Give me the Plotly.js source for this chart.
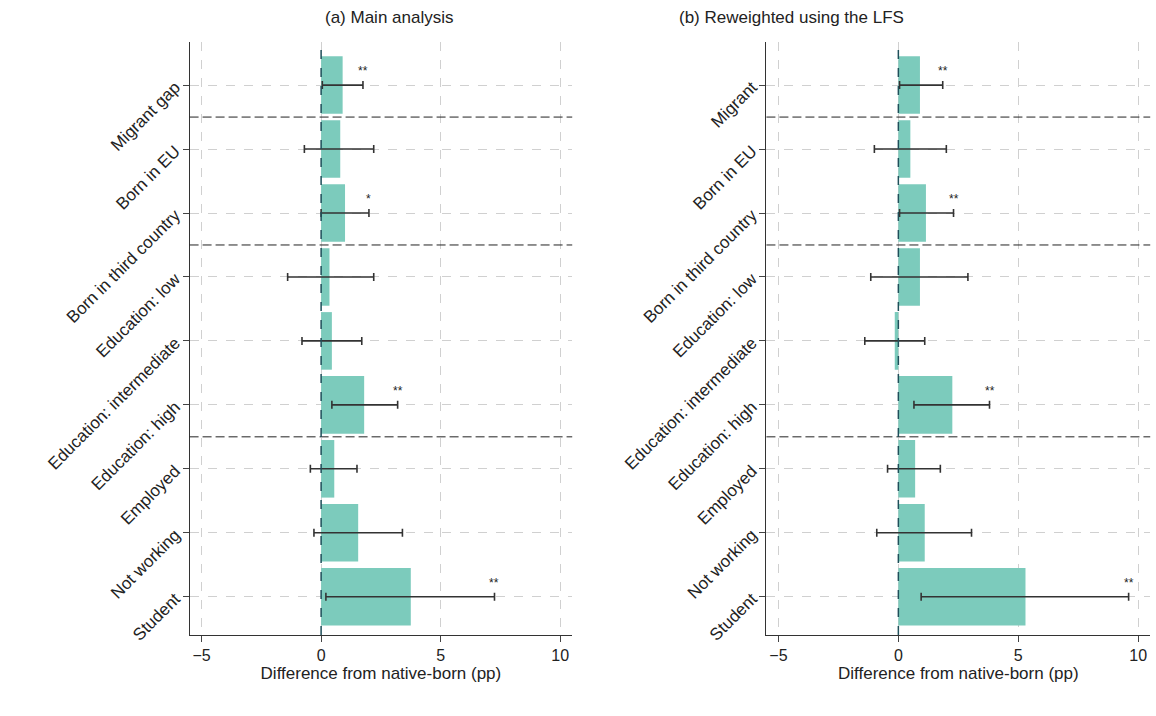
<!DOCTYPE html>
<html><head><meta charset="utf-8">
<script src="https://cdn.plot.ly/plotly-3.0.1.min.js"></script>
<style>body{margin:0}</style></head><body>
<div id="c" style="width:1156px;height:716px"></div>
<script>
const categories=["Migrant gap","Born in EU","Born in third country","Education: low","Education: intermediate","Education: high","Employed","Not working","Student"];
const categoriesB=["Migrant","Born in EU","Born in third country","Education: low","Education: intermediate","Education: high","Employed","Not working","Student"];
const valA=[0.9,0.8,1.0,0.35,0.45,1.8,0.55,1.55,3.75];
const loA=[0.05,-0.7,0.0,-1.4,-0.8,0.45,-0.45,-0.3,0.2];
const hiA=[1.75,2.2,2.0,2.2,1.7,3.2,1.5,3.4,7.25];
const starA=["**","","*","","","**","","","**"];
const valB=[0.9,0.5,1.15,0.9,-0.15,2.25,0.7,1.1,5.3];
const loB=[0.05,-1.0,0.05,-1.15,-1.4,0.65,-0.45,-0.9,0.95];
const hiB=[1.85,2.0,2.3,2.9,1.1,3.8,1.75,3.05,9.6];
const starB=["**","","**","","","**","","","**"];
const separators=[0.5,2.5,5.5];
const xticks=[-5,0,5,10];
const idx=categories.map((_,i)=>i);
const barColor="#7ccbbc";
function tr(v,lo,hi,xa,ya){return {type:'bar',orientation:'h',x:v,y:idx,xaxis:xa,yaxis:ya,width:0.9,
 marker:{color:barColor},error_x:{type:'data',symmetric:false,array:v.map((d,i)=>hi[i]-d),arrayminus:v.map((d,i)=>d-lo[i]),color:'#333',thickness:1.6,width:4},hoverinfo:'skip'};}
const data=[tr(valA,loA,hiA,'x','y'),tr(valB,loB,hiB,'x2','y2')];
const shapes=[],ann=[];
[['x','y'],['x2','y2']].forEach(([xa,ya])=>{
 separators.forEach(s=>shapes.push({type:'line',xref:xa+' domain',yref:ya,x0:0,x1:1,y0:s,y1:s,line:{color:'#222',width:1,dash:'9px,4px'}}));
 shapes.push({type:'line',xref:xa,yref:ya+' domain',x0:0,x1:0,y0:0,y1:1,line:{color:'#1f4f5a',width:1.5,dash:'dash'},layer:'above'});
});
starA.forEach((s,i)=>{if(s)ann.push({xref:'x',yref:'y',x:hiA[i],y:i,text:s,showarrow:false,yshift:14,font:{size:12,color:'#222'}});});
starB.forEach((s,i)=>{if(s)ann.push({xref:'x2',yref:'y2',x:hiB[i],y:i,text:s,showarrow:false,yshift:14,font:{size:12,color:'#222'}});});
ann.push({xref:'paper',yref:'paper',x:0.279,y:0.975,yanchor:'middle',text:'(a) Main analysis',showarrow:false,font:{size:17,color:'#222'}});
ann.push({xref:'paper',yref:'paper',x:0.784,y:0.975,yanchor:'middle',text:'(b) Reweighted using the LFS',showarrow:false,font:{size:17,color:'#222'}});
const xax=(dom)=>({domain:dom,range:[-5.5,10.5],tickvals:xticks,ticks:'outside',ticklen:6,showline:true,linecolor:'#333',zeroline:false,
 gridcolor:'#d0d0d0',griddash:'dash',tickfont:{size:16,color:'#222'},title:{text:'Difference from native-born (pp)',font:{size:17,color:'#222'},standoff:2}});
const yax=(txt,anchor)=>({domain:[0.113,0.941],anchor:anchor,range:[8.6,-0.67],tickvals:idx,ticktext:txt,tickangle:-45,ticks:'outside',ticklen:6,ticklabelstandoff:4,
 showline:true,linecolor:'#333',zeroline:false,gridcolor:'#d0d0d0',griddash:'dash',tickfont:{size:17,color:'#222'}});
const layout={margin:{l:0,r:0,t:0,b:0},showlegend:false,plot_bgcolor:'#fff',paper_bgcolor:'#fff',font:{family:'Liberation Sans, Arial'},
 xaxis:Object.assign(xax([0.164,0.495]),{anchor:'y'}),yaxis:yax(categories,'x'),
 xaxis2:Object.assign(xax([0.663,0.995]),{anchor:'y2'}),yaxis2:yax(categoriesB,'x2'),
 shapes:shapes,annotations:ann,bargap:0.1};
Plotly.newPlot('c',data,layout,{displayModeBar:false});
</script></body></html>
